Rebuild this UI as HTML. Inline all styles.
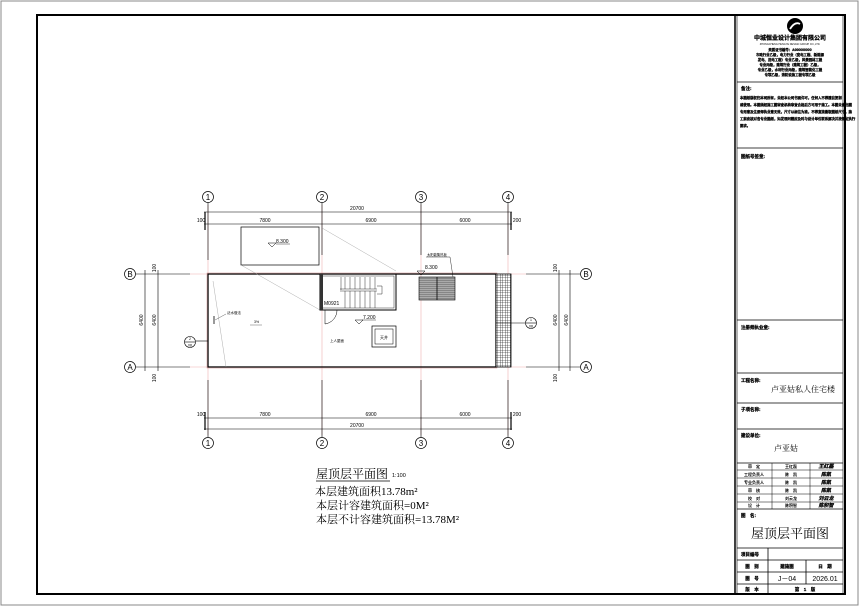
<!DOCTYPE html>
<html><head><meta charset="utf-8"><style>
html,body{margin:0;padding:0;background:#fff;}
svg{display:block;font-family:"Liberation Sans","Noto Sans CJK SC",sans-serif;}
.s{font-family:"Liberation Serif","Noto Serif CJK SC",serif;}
.d{stroke:#000;stroke-width:0.25;}
</style></head><body>
<svg width="860" height="607" viewBox="0 0 860 607" xmlns="http://www.w3.org/2000/svg">
<rect x="0" y="0" width="860" height="607" fill="#fff"/>
<rect x="1" y="1" width="857" height="604" fill="none" stroke="#888" stroke-width="1"/>
<rect x="37" y="15" width="808" height="579" fill="none" stroke="#000" stroke-width="2"/>
<g stroke="#000" fill="none">
<line x1="735" y1="15" x2="735" y2="594" stroke-width="1.5"/>
<line x1="737" y1="15" x2="737" y2="594" stroke-width="0.6"/>
<line x1="843" y1="15" x2="843" y2="594" stroke-width="0.6"/>
<g stroke-width="0.8">
<line x1="737" y1="82" x2="843" y2="82"/>
<line x1="737" y1="148" x2="843" y2="148"/>
<line x1="737" y1="320" x2="843" y2="320"/>
<line x1="737" y1="373" x2="843" y2="373"/>
<line x1="737" y1="403" x2="843" y2="403"/>
<line x1="737" y1="429" x2="843" y2="429"/>
<line x1="737" y1="463" x2="843" y2="463"/>
<line x1="737" y1="470" x2="843" y2="470" stroke-width="0.5"/>
<line x1="737" y1="478" x2="843" y2="478" stroke-width="0.5"/>
<line x1="737" y1="486" x2="843" y2="486" stroke-width="0.5"/>
<line x1="737" y1="494" x2="843" y2="494" stroke-width="0.5"/>
<line x1="737" y1="502" x2="843" y2="502" stroke-width="0.5"/>
<line x1="737" y1="509" x2="843" y2="509"/>
<line x1="737" y1="548" x2="843" y2="548"/>
<line x1="737" y1="560" x2="843" y2="560"/>
<line x1="737" y1="572" x2="843" y2="572"/>
<line x1="737" y1="584" x2="843" y2="584"/>
<line x1="772" y1="463" x2="772" y2="509" stroke-width="0.5"/>
<line x1="810" y1="463" x2="810" y2="509" stroke-width="0.5"/>
<line x1="768" y1="548" x2="768" y2="594"/>
<line x1="806" y1="560" x2="806" y2="584"/>
</g>
</g>
<circle cx="795" cy="26" r="8" fill="#000"/>
<path d="M790 29 q5 -8 10 -5" stroke="#fff" stroke-width="1.8" fill="none"/>
<text x="790" y="40" font-size="6" text-anchor="middle" font-weight="bold" class="d">中城恒业设计集团有限公司</text>
<text x="790" y="45" font-size="2.5" text-anchor="middle">ZHONGCHENG HENGYE DESIGN GROUP CO.,LTD.</text>
<g font-size="3.4" font-weight="bold" text-anchor="middle" class="d">
<text x="790" y="51">资质证书编号：A000000000</text>
<text x="790" y="56">市政行业乙级，电力行业（变电工程、新能源</text>
<text x="790" y="61">发电、送电工程）专业乙级，风景园林工程</text>
<text x="790" y="66">专业丙级，建筑行业（建筑工程）乙级，</text>
<text x="790" y="71">专业乙级，水利行业丙级，建筑智能化工程</text>
<text x="790" y="76">专项乙级，消防设施工程专项乙级</text>
</g>
<text x="741" y="90" font-size="4.5" font-weight="bold" class="d">备注:</text>
<g font-size="3.4" font-weight="bold" class="d">
<text x="740" y="99">本图纸版权归本司所有，未经本公司书面许可，任何人不得擅自复制</text>
<text x="740" y="106">或使用。本图须经施工图审查机构审查合格后方可用于施工。本图未盖出图</text>
<text x="740" y="113">专用章及注册师执业章无效，尺寸以标注为准，不得直接量取图纸尺寸，施</text>
<text x="740" y="120">工前应核对各专业图纸，如发现问题应及时与设计单位联系解决并按规定执行</text>
<text x="740" y="127">要求。</text>
</g>
<text x="741" y="158" font-size="4.5" font-weight="bold" class="d">图纸号签章:</text>
<text x="741" y="329" font-size="4.5" font-weight="bold" class="d">注册师执业章:</text>
<text x="741" y="382" font-size="4.5" font-weight="bold" class="d">工程名称:</text>
<text x="803" y="392" font-size="8" text-anchor="middle" class="s">卢亚姑私人住宅楼</text>
<text x="741" y="411" font-size="4.5" font-weight="bold" class="d">子项名称:</text>
<text x="741" y="437" font-size="4.5" font-weight="bold" class="d">建设单位:</text>
<text x="786" y="451" font-size="8" text-anchor="middle" class="s">卢亚姑</text>
<g font-size="4" text-anchor="middle" font-weight="bold">
<text x="754" y="468">审　定</text><text x="791" y="468">王红磊</text>
<text x="754" y="476">工程负责人</text><text x="791" y="476">陈　凯</text>
<text x="754" y="484">专业负责人</text><text x="791" y="484">陈　凯</text>
<text x="754" y="492">审　核</text><text x="791" y="492">陈　凯</text>
<text x="754" y="500">校　对</text><text x="791" y="500">刘云龙</text>
<text x="754" y="507">设　计</text><text x="791" y="507">陈积智</text>
</g>
<g font-size="5" font-weight="bold" text-anchor="middle" font-style="italic" class="d">
<text x="826" y="468">王红磊</text><text x="826" y="476">陈凯</text><text x="826" y="484">陈凯</text>
<text x="826" y="492">陈凯</text><text x="826" y="500">刘云龙</text><text x="826" y="507">陈积智</text>
</g>
<text x="741" y="517" font-size="4.5" font-weight="bold" class="d">图　名:</text>
<text x="790" y="538" font-size="13" text-anchor="middle" class="s">屋顶层平面图</text>
<text x="741" y="556" font-size="4.5" font-weight="bold" class="d">项目编号</text>
<g font-size="4.5" font-weight="bold" text-anchor="middle" class="d">
<text x="752" y="568">图　别</text><text x="787" y="568">建施图</text><text x="825" y="568">日　期</text>
<text x="752" y="580">图　号</text><text x="752" y="591">版　本</text><text x="805" y="591">第　1　版</text>
</g>
<text x="787" y="581" font-size="7" text-anchor="middle">J－04</text>
<text x="825" y="581" font-size="7" text-anchor="middle">2026.01</text>

<g stroke="#f0b0b0" stroke-width="0.6">
<line x1="208" y1="205" x2="208" y2="435"/>
<line x1="322" y1="205" x2="322" y2="435"/>
<line x1="421" y1="205" x2="421" y2="435"/>
<line x1="508" y1="205" x2="508" y2="435"/>
<line x1="190" y1="274" x2="526" y2="274"/>
<line x1="190" y1="367" x2="526" y2="367"/>
</g>
<g stroke="#000" stroke-width="0.6" fill="none">
<line x1="204" y1="212" x2="512" y2="212"/>
<line x1="204" y1="224" x2="512" y2="224"/>
<line x1="204" y1="418" x2="512" y2="418"/>
<line x1="204" y1="429" x2="512" y2="429"/>
<line x1="145" y1="270" x2="145" y2="371"/>
<line x1="158" y1="270" x2="158" y2="371"/>
<line x1="559" y1="270" x2="559" y2="371"/>
<line x1="570" y1="270" x2="570" y2="371"/>
<line x1="136" y1="274" x2="190" y2="274"/><line x1="136" y1="367" x2="190" y2="367"/>
<line x1="526" y1="274" x2="580" y2="274"/><line x1="526" y1="367" x2="580" y2="367"/>
<line x1="208" y1="203" x2="208" y2="260"/><line x1="322" y1="203" x2="322" y2="255"/>
<line x1="421" y1="203" x2="421" y2="255"/><line x1="508" y1="203" x2="508" y2="255"/>
<line x1="208" y1="380" x2="208" y2="437"/><line x1="322" y1="380" x2="322" y2="437"/>
<line x1="421" y1="380" x2="421" y2="437"/><line x1="508" y1="380" x2="508" y2="437"/>
<line x1="205" y1="212" x2="205" y2="230" stroke-width="1.2"/>
<line x1="511" y1="212" x2="511" y2="230" stroke-width="1.2"/>
<line x1="205" y1="412" x2="205" y2="430" stroke-width="1.2"/>
<line x1="511" y1="412" x2="511" y2="430" stroke-width="1.2"/>
</g>
<g font-size="5" text-anchor="middle">
<text x="357" y="210">20700</text>
<text x="201" y="222">100</text><text x="265" y="222">7800</text><text x="371" y="222">6900</text><text x="465" y="222">6000</text><text x="517" y="222">200</text>
<text x="201" y="416">100</text><text x="265" y="416">7800</text><text x="371" y="416">6900</text><text x="465" y="416">6000</text><text x="517" y="416">200</text>
<text x="357" y="427">20700</text>
</g>
<g font-size="5" text-anchor="middle">
<text transform="translate(143,320) rotate(-90)">6400</text>
<text transform="translate(156,320) rotate(-90)">6400</text>
<text transform="translate(557,320) rotate(-90)">6400</text>
<text transform="translate(568,320) rotate(-90)">6400</text>
<text transform="translate(156,268) rotate(-90)">100</text>
<text transform="translate(156,378) rotate(-90)">100</text>
<text transform="translate(557,268) rotate(-90)">100</text>
<text transform="translate(557,378) rotate(-90)">100</text>
</g>
<g stroke="#000" stroke-width="0.7" fill="#fff">
<circle cx="208" cy="197" r="5.5"/><circle cx="322" cy="197" r="5.5"/><circle cx="421" cy="197" r="5.5"/><circle cx="508" cy="197" r="5.5"/>
<circle cx="208" cy="443" r="5.5"/><circle cx="322" cy="443" r="5.5"/><circle cx="421" cy="443" r="5.5"/><circle cx="508" cy="443" r="5.5"/>
<circle cx="130" cy="274" r="5.5"/><circle cx="130" cy="367" r="5.5"/><circle cx="586" cy="274" r="5.5"/><circle cx="586" cy="367" r="5.5"/>
</g>
<g font-size="8" text-anchor="middle">
<text x="208" y="200">1</text><text x="322" y="200">2</text><text x="421" y="200">3</text><text x="508" y="200">4</text>
<text x="208" y="446">1</text><text x="322" y="446">2</text><text x="421" y="446">3</text><text x="508" y="446">4</text>
<text x="130" y="277">B</text><text x="130" y="370">A</text><text x="586" y="277">B</text><text x="586" y="370">A</text>
</g>
<rect x="208" y="274" width="288" height="93" fill="none" stroke="#000" stroke-width="1.3"/>
<rect x="207" y="273" width="290" height="95" fill="none" stroke="#c88" stroke-width="0.5"/>
<defs><pattern id="g" width="2.5" height="2.5" patternUnits="userSpaceOnUse"><rect width="2.5" height="2.5" fill="#fff"/><path d="M0 0H2.5M0 0V2.5" stroke="#000" stroke-width="0.6"/></pattern>
<pattern id="h" width="3" height="2" patternUnits="userSpaceOnUse"><rect width="3" height="2" fill="#aaa"/><path d="M0 0H3" stroke="#444" stroke-width="0.7"/></pattern></defs>
<rect x="496" y="274" width="15" height="93" fill="url(#g)" stroke="#000" stroke-width="0.8"/>
<rect x="241" y="227" width="78" height="38" fill="none" stroke="#000" stroke-width="0.7"/>
<text x="276" y="243" font-size="5">8.300</text>
<path d="M268 243 l4 4 l4 -4 z" fill="none" stroke="#000" stroke-width="0.5"/>
<line x1="276" y1="244" x2="290" y2="244" stroke="#000" stroke-width="0.4"/>
<g stroke="#999" stroke-width="0.4">
<line x1="322" y1="228" x2="396" y2="271"/>
<line x1="241" y1="265" x2="320" y2="310"/>
<line x1="213" y1="281" x2="226" y2="367"/>
</g>
<rect x="320" y="274" width="76" height="36" fill="none" stroke="#000" stroke-width="1"/>
<rect x="322" y="276" width="72" height="32" fill="none" stroke="#000" stroke-width="0.4"/>
<g stroke="#000" stroke-width="0.4">
<line x1="341" y1="277" x2="341" y2="290"/>
<line x1="340" y1="289" x2="377" y2="289"/><line x1="340" y1="291" x2="377" y2="291"/>
<line x1="345" y1="277" x2="345" y2="289"/><line x1="350" y1="277" x2="350" y2="289"/><line x1="355" y1="277" x2="355" y2="289"/><line x1="360" y1="277" x2="360" y2="289"/><line x1="365" y1="277" x2="365" y2="289"/><line x1="370" y1="277" x2="370" y2="289"/><line x1="375" y1="277" x2="375" y2="289"/>
<line x1="345" y1="291" x2="345" y2="308"/><line x1="350" y1="291" x2="350" y2="308"/><line x1="355" y1="291" x2="355" y2="308"/><line x1="360" y1="291" x2="360" y2="308"/><line x1="365" y1="291" x2="365" y2="308"/><line x1="370" y1="291" x2="370" y2="308"/><line x1="375" y1="291" x2="375" y2="308"/>
<path d="M377 286 h5 v8 h-5" fill="none"/>
</g>
<rect x="320" y="274" width="3" height="36" fill="#333"/>
<path d="M337 310 a14 14 0 0 1 -12 14 v-14" fill="none" stroke="#000" stroke-width="0.5"/>
<text x="324" y="305" font-size="5">M0921</text>
<path d="M355 320 l4 4 l4 -4 z" fill="none" stroke="#000" stroke-width="0.5"/>
<text x="363" y="319" font-size="5">7.200</text>
<line x1="362" y1="320" x2="376" y2="320" stroke="#000" stroke-width="0.4"/>
<rect x="372" y="326" width="24" height="21" fill="none" stroke="#000" stroke-width="0.7"/>
<rect x="375" y="329" width="18" height="15" fill="none" stroke="#000" stroke-width="0.5"/>
<text x="384" y="339" font-size="4" text-anchor="middle">天井</text>
<text x="330" y="342" font-size="3.5">上人屋面</text>
<text x="254" y="323" font-size="3.5">3%</text>
<line x1="250" y1="325" x2="262" y2="325" stroke="#000" stroke-width="0.3"/>
<text x="227" y="314" font-size="3.5">泛水做法</text>
<line x1="215" y1="320" x2="226" y2="314" stroke="#000" stroke-width="0.3"/>
<line x1="214" y1="316" x2="214" y2="324" stroke="#000" stroke-width="0.8"/>
<rect x="419" y="277" width="36" height="23" fill="url(#h)" stroke="#000" stroke-width="0.6"/>
<line x1="437" y1="277" x2="437" y2="300" stroke="#000" stroke-width="0.8"/>
<path d="M417 271 l4 4 l4 -4 z" fill="none" stroke="#000" stroke-width="0.5"/>
<text x="425" y="269" font-size="5">8.300</text>
<text x="427" y="256" font-size="3.3">太阳能集热板</text>
<line x1="426" y1="257" x2="450" y2="257" stroke="#000" stroke-width="0.4"/>
<line x1="450" y1="257" x2="453" y2="277" stroke="#000" stroke-width="0.4"/>
<g stroke="#000" stroke-width="0.6" fill="#fff">
<circle cx="190" cy="342" r="5.5"/><circle cx="531" cy="323" r="5.5"/>
<line x1="185" y1="342" x2="195" y2="342"/><line x1="526" y1="323" x2="536" y2="323"/>
<line x1="196" y1="341" x2="208" y2="341"/><line x1="496" y1="323" x2="525" y2="323"/>
</g>
<g font-size="3.5" text-anchor="middle"><text x="190" y="340">2</text><text x="190" y="346.5">08</text><text x="531" y="321">1</text><text x="531" y="327.5">08</text></g>
<text x="316" y="478" font-size="12" class="s">屋顶层平面图</text>
<line x1="316" y1="481" x2="390" y2="481" stroke="#000" stroke-width="0.8"/>
<text x="392" y="477" font-size="5.5">1:100</text>
<text x="315" y="495" font-size="11" class="s">本层建筑面积13.78m²</text>
<text x="316" y="509" font-size="11" class="s">本层计容建筑面积=0M²</text>
<text x="316" y="523" font-size="11" class="s">本层不计容建筑面积=13.78M²</text>
</svg>
</body></html>
